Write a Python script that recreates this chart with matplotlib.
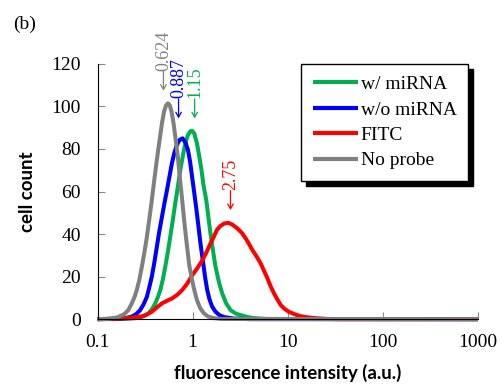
import numpy as np
import matplotlib.pyplot as plt

# fluorescence intensity (a.u.) / cell count
green_x = [0.1, 0.2, 0.268, 0.31, 0.343, 0.375, 0.404, 0.43, 0.456, 0.485, 0.515, 0.548,
           0.581, 0.618, 0.656, 0.7, 0.741, 0.79, 0.837, 0.89, 0.945, 0.986, 1.04, 1.11,
           1.175, 1.24, 1.3, 1.39, 1.54, 1.64, 1.74, 1.9, 2.05, 2.25, 2.51, 2.85, 3.2,
           3.8, 4.39, 6.0, 1000]
green_y = [0, 0.1, 0.6, 1.5, 2.7, 4.8, 7.4, 10.3, 13.6, 18.5, 24.6, 31.5,
           38.7, 46.5, 54.4, 62.5, 70, 77, 82.6, 86.5, 88.3, 88.6, 87.3, 82.6,
           76.5, 70, 63, 56, 40.3, 32, 24.6, 17, 12, 7.5, 4.2, 2.6, 1.9,
           1.0, 0.5, 0.1, 0]

blue_x = [0.1, 0.17, 0.2, 0.229, 0.255, 0.28, 0.305, 0.33, 0.35, 0.372, 0.395, 0.42,
          0.445, 0.475, 0.505, 0.537, 0.57, 0.605, 0.645, 0.684, 0.73, 0.783, 0.84,
          0.893, 0.94, 0.986, 1.035, 1.087, 1.145, 1.205, 1.28, 1.36, 1.42, 1.5, 1.6,
          1.74, 1.9, 2.13, 2.69, 4.0, 1000]
blue_y = [0, 0.2, 0.6, 1.2, 2.4, 4.2, 7, 10.5, 15, 20, 26.5, 34,
          41, 48, 54.5, 60.7, 67, 73.3, 78.5, 82, 84.3, 85, 83,
          79.5, 74, 67, 60, 52.8, 44.5, 36, 27.5, 19, 14, 9.5, 6,
          3.5, 2.0, 1.0, 0.3, 0, 0]

red_x = [0.1, 0.152, 0.211, 0.25, 0.292, 0.33, 0.372, 0.42, 0.475, 0.54, 0.605, 0.69,
         0.773, 0.87, 0.986, 1.1, 1.26, 1.4, 1.54, 1.67, 1.8, 1.96, 2.15, 2.37, 2.6,
         2.95, 3.3, 3.61, 3.9, 4.25, 4.7, 5.2, 5.6, 6.12, 6.6, 7.18, 7.8, 8.45, 9.3,
         10.35, 12.0, 13.7, 16.0, 19.0, 26.4, 35.0, 1000]
red_y = [0, 0.2, 0.6, 0.9, 1.3, 2.2, 3.5, 5.5, 7.4, 8.7, 9.7, 11.5,
         13.6, 16.5, 20.5, 23.5, 27.5, 31.5, 35.6, 38.7, 42, 43.8, 45, 45.3, 44.5,
         42.7, 40.5, 38, 35.5, 32.5, 29.5, 26.2, 23, 19.2, 15.5, 12.1, 9.2, 6.6, 4.8,
         3.4, 2.2, 1.4, 0.9, 0.5, 0.1, 0, 0]

gray_x = [0.1, 0.13, 0.16, 0.19, 0.21, 0.229, 0.245, 0.258, 0.275, 0.292, 0.31, 0.33,
          0.35, 0.372, 0.395, 0.42, 0.445, 0.475, 0.5, 0.525, 0.55, 0.575, 0.6, 0.63,
          0.665, 0.7, 0.735, 0.77, 0.81, 0.85, 0.92, 0.986, 1.05, 1.11, 1.2, 1.31,
          1.45, 1.66, 2.0, 1000]
gray_y = [0, 0.2, 0.8, 2.3, 4.2, 7.4, 10.5, 13.6, 18.5, 24.6, 31, 38.7,
          47, 56, 65.5, 74.8, 83, 92, 97.5, 100.5, 101.5, 100.5, 97.5, 92,
          84, 76, 66, 57.5, 47.5, 38.7, 25.5, 18.4, 13, 9, 5.2, 2.8,
          1.3, 0.5, 0.1, 0]

series = [
    ("w/ miRNA", green_x, green_y, "#00b050"),
    ("w/o miRNA", blue_x, blue_y, "#0000ff"),
    ("FITC", red_x, red_y, "#ff0000"),
    ("No probe", gray_x, gray_y, "#808080"),
]

# peak annotations: (text, x, y, color)
peak_labels = [
    ("0.624", 0.493, 107.4, "#808080"),
    ("0.887", 0.711, 94.4, "#0000ff"),
    ("1.15", 1.05, 94.4, "#00b050"),
    ("2.75", 2.5, 51.3, "#ff0000"),
]

serif = "Liberation Serif"

fig = plt.figure(figsize=(5.03, 3.85), dpi=100)
ax = fig.add_axes([0.194, 0.171, 0.756, 0.663])

for name, x, y, c in series:
    ax.plot(x, y, color=c, lw=2.9, label=name, clip_on=False, solid_capstyle="butt")

for txt, x, y, c in peak_labels:
    ax.annotate("", xy=(x, y), xytext=(0, 14), textcoords="offset points",
                arrowprops=dict(arrowstyle="->,head_length=0.35,head_width=0.2",
                                color=c, lw=0.9, shrinkA=0, shrinkB=0))
    ax.annotate(txt, xy=(x, y), xytext=(0, 14.5), textcoords="offset points",
                rotation=90, ha="center", va="bottom", color=c,
                fontsize=13, family=serif)

ax.set_xscale("log")
ax.set_xlim(0.1, 1000)
ax.set_ylim(0, 120)
ax.set_xticks([0.1, 1, 10, 100, 1000])
ax.set_xticklabels(["0.1", "1", "10", "100", "1000"])
ax.set_yticks(range(0, 121, 20))
ax.minorticks_off()
ax.tick_params(direction="in", length=5, width=0.8, color="#888888", labelsize=14)
ax.tick_params(axis="x", pad=11)
ax.tick_params(axis="y", pad=12)
for lab in ax.get_xticklabels() + ax.get_yticklabels():
    lab.set_family(serif)

ax.spines["top"].set_visible(False)
ax.spines["right"].set_visible(False)
ax.set_xlabel("fluorescence intensity (a.u.)", fontsize=13.5, fontweight="bold",
              family="Lato", labelpad=9)
ax.set_ylabel("cell count", fontsize=13.5, fontweight="bold", family="Lato", labelpad=11)

leg = ax.legend(loc="upper right", bbox_to_anchor=(0.975, 1.0), borderaxespad=0,
                prop={"family": serif, "size": 14}, fancybox=False, framealpha=1,
                edgecolor="black", handlelength=2.3, handletextpad=0.15,
                labelspacing=0.4, borderpad=0.6,
                shadow={"ox": 3.5, "oy": -3.5, "color": "black", "alpha": 1})
for h in leg.get_lines():
    h.set_linewidth(3)

fig.text(0.026, 0.925, "(b)", family=serif, fontsize=14, va="baseline")

fig.savefig("out.png", dpi=100)
